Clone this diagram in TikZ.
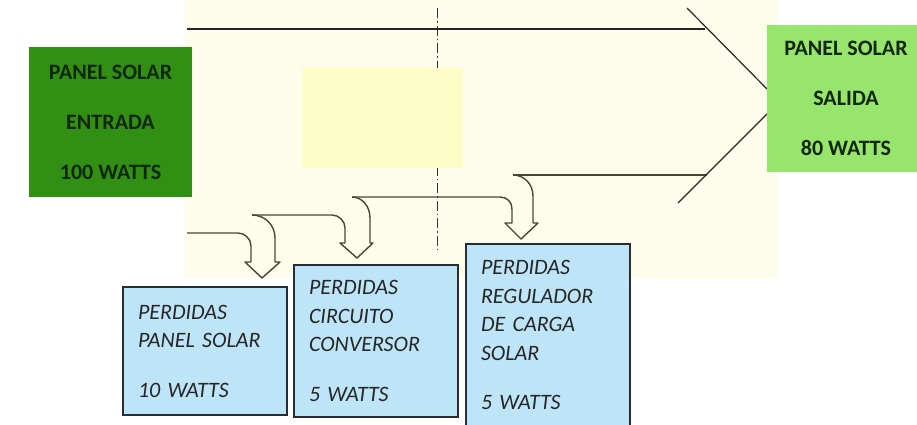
\documentclass[tikz,border=0pt]{standalone}
\usepackage{fontspec}
\setmainfont{Carlito}
\usepackage{tikz}

\definecolor{creamback}{RGB}{254,253,236}
\definecolor{paleyellow}{RGB}{253,253,200}
\definecolor{panelgreen}{RGB}{49,143,20}
\definecolor{outgreen}{RGB}{152,229,110}
\definecolor{greentext}{RGB}{18,38,8}
\definecolor{lossblue}{RGB}{190,228,248}
\definecolor{boxline}{RGB}{40,45,50}
\definecolor{flowgray}{RGB}{70,70,55}

\begin{document}
\begin{tikzpicture}[x=1pt, y=-1pt,
  panel/.style = {shape=rectangle, align=center, text=greentext,
  font=\fontsize{22}{50}\selectfont\bfseries},
  lossbox/.style = {shape=rectangle, draw=boxline, line width=1.1pt,
  fill=lossblue, inner xsep=15pt, text width=134pt, align=left,
  text=black!85, font=\fontsize{22}{28.5}\selectfont\itshape},
  flowline/.style = {draw=black!85, line width=1.2pt},
  lossline/.style = {draw=flowgray, line width=1.4pt, line join=round}]
  \useasboundingbox (0,0) rectangle (917,424);
  \fill[white] (0,0) rectangle (917,424);
  % background of the flow
  \fill[creamback] (185,0) rectangle (778,278);
  \draw[black!80, line width=1pt, dash pattern=on 10pt off 3pt on 1.5pt off 3pt]
      (437,8) -- (437,250);
  \fill[paleyellow] (302,68) rectangle (463,168);
  % main flow
  \draw[flowline] (187,29) -- (705,29);
  \draw[flowline] (687,8) -- (767,89);
  \draw[flowline, draw=flowgray] (513,175) -- (707,175);
  \draw[flowline] (767,114) -- (678,203);
  % loss 1
  \draw[lossline] (187,233) -- (238,233) .. controls (245,233) and (251,239) .. (251,246)
      -- (251,262) -- (245,262) -- (262,278) -- (280,262) -- (275,262)
      -- (275,238) .. controls (275,225) and (265,215) .. (252,215);
  % loss 2
  \draw[lossline] (252,215) -- (332,215) .. controls (339,215) and (345,221) .. (345,228)
      -- (345,243) -- (340,243) -- (357,258) -- (373,243) -- (370,243)
      -- (370,218) .. controls (370,206) and (362,197) .. (352,197);
  % loss 3
  \draw[lossline] (352,197) -- (500,197) .. controls (507,197) and (512,202) .. (512,209)
      -- (512,223) -- (505,223) -- (521,239) -- (538,223) -- (533,223)
      -- (533,196) .. controls (533,184) and (524,175) .. (513,175);
  % panels
  \node[panel, fill=panelgreen, minimum width=163pt, minimum height=150pt]
      (entrada) at (110.5,122) {PANEL SOLAR\\ENTRADA\\100 WATTS};
  \node[panel, fill=outgreen, minimum width=158pt, minimum height=147pt]
      (salida) at (846,98.5) {PANEL SOLAR\\SALIDA\\80 WATTS};
  % losses
  \node[lossbox, minimum height=128pt] (perdpanel) at (205,351)
      {PERDIDAS\\PANEL SOLAR\\[21pt]10 WATTS};
  \node[lossbox, minimum height=152pt] (perdconv) at (376,341)
      {PERDIDAS\\CIRCUITO\\CONVERSOR\\[21pt]5 WATTS};
  \node[lossbox, minimum height=182pt] (perdreg) at (548,335)
      {PERDIDAS\\REGULADOR\\DE CARGA\\SOLAR\\[21pt]5 WATTS};
\end{tikzpicture}
\end{document}
